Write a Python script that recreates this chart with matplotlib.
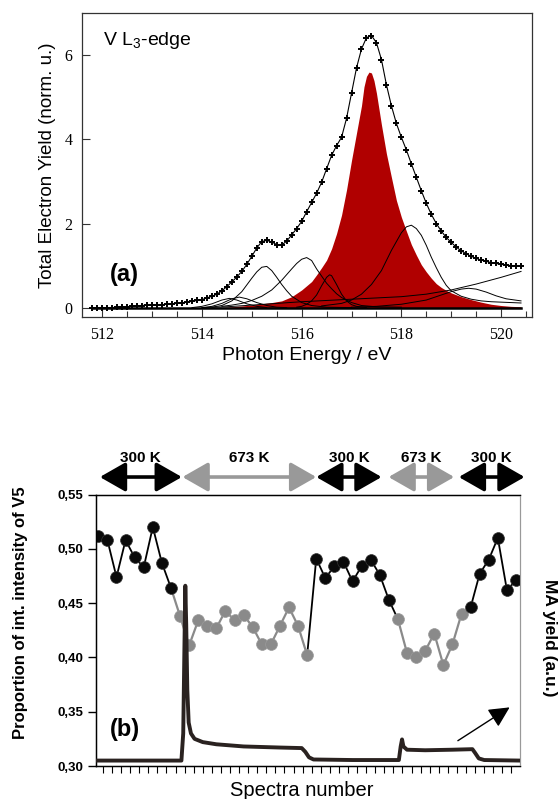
import numpy as np
import matplotlib
matplotlib.use('Agg')
import matplotlib.pyplot as plt
from matplotlib.ticker import MultipleLocator

plt.rcParams['font.family'] = ['Liberation Sans', 'DejaVu Sans']
plt.rcParams['mathtext.fontset'] = 'custom'
plt.rcParams['mathtext.rm'] = 'Liberation Sans'

# ---------- panel (a): V L3-edge, total yield + fit components ----------
tot_e = [511.8, 511.9, 512.0, 512.1, 512.2, 512.3, 512.4, 512.5, 512.6, 512.7,
         512.8, 512.9, 513.0, 513.1, 513.2, 513.3, 513.4, 513.5, 513.6, 513.7,
         513.8, 513.9, 514.0, 514.1, 514.2, 514.3, 514.4, 514.5, 514.6, 514.7,
         514.8, 514.9, 515.0, 515.1, 515.2, 515.3, 515.4, 515.5, 515.6, 515.7,
         515.8, 515.9, 516.0, 516.1, 516.2, 516.3, 516.4, 516.5, 516.6, 516.7,
         516.8, 516.9, 517.0, 517.1, 517.2, 517.3, 517.4, 517.5, 517.6, 517.7,
         517.8, 517.9, 518.0, 518.1, 518.2, 518.3, 518.4, 518.5, 518.6, 518.7,
         518.8, 518.9, 519.0, 519.1, 519.2, 519.3, 519.4, 519.5, 519.6, 519.7,
         519.8, 519.9, 520.0, 520.1, 520.2, 520.3, 520.4]
tot_y = [0.00, 0.00, 0.00, 0.00, 0.00, 0.01, 0.01, 0.02, 0.03, 0.04,
         0.05, 0.06, 0.06, 0.07, 0.07, 0.08, 0.09, 0.10, 0.11, 0.13,
         0.15, 0.17, 0.19, 0.23, 0.27, 0.32, 0.40, 0.50, 0.61, 0.73,
         0.86, 1.03, 1.22, 1.42, 1.57, 1.60, 1.56, 1.50, 1.49, 1.58,
         1.73, 1.88, 2.05, 2.28, 2.50, 2.72, 2.98, 3.30, 3.62, 3.85,
         4.05, 4.50, 5.10, 5.70, 6.15, 6.42, 6.47, 6.30, 5.90, 5.30,
         4.80, 4.38, 4.05, 3.75, 3.42, 3.10, 2.78, 2.48, 2.22, 2.00,
         1.82, 1.67, 1.55, 1.44, 1.35, 1.28, 1.22, 1.17, 1.13, 1.10,
         1.07, 1.05, 1.03, 1.01, 1.00, 0.99, 0.98]

red_e = [514.4, 514.6, 514.8, 515.0, 515.2, 515.4, 515.6, 515.8, 516.0, 516.1,
         516.2, 516.3, 516.4, 516.5, 516.6, 516.7, 516.8, 516.9, 517.0, 517.1,
         517.2, 517.25, 517.3, 517.35, 517.4, 517.45, 517.5, 517.6, 517.7, 517.8,
         517.9, 518.0, 518.1, 518.2, 518.3, 518.4, 518.5, 518.6, 518.7, 518.8,
         518.9, 519.0, 519.2, 519.4, 519.6, 519.8, 520.0, 520.2, 520.4]
red_y = [0.00, 0.02, 0.04, 0.06, 0.09, 0.12, 0.16, 0.26, 0.42, 0.52,
         0.62, 0.78, 0.95, 1.13, 1.40, 1.76, 2.20, 2.80, 3.50, 4.15,
         4.80, 5.25, 5.50, 5.60, 5.58, 5.40, 5.10, 4.35, 3.66, 3.10,
         2.55, 2.15, 1.82, 1.50, 1.25, 1.02, 0.85, 0.70, 0.57, 0.48,
         0.41, 0.35, 0.26, 0.19, 0.13, 0.08, 0.05, 0.03, 0.02]

compA_e = [514.2, 514.4, 514.6, 514.8, 515.0, 515.1, 515.2, 515.3, 515.4, 515.5,
           515.6, 515.7, 515.8, 516.0, 516.2, 516.5, 517.0]
compA_y = [0.01, 0.05, 0.16, 0.38, 0.70, 0.85, 0.96, 0.98, 0.88, 0.72,
           0.55, 0.40, 0.27, 0.12, 0.05, 0.01, 0.00]

compB_e = [514.4, 514.6, 514.8, 515.0, 515.2, 515.4, 515.6, 515.8, 515.9, 516.0,
           516.1, 516.2, 516.3, 516.4, 516.5, 516.6, 516.7, 516.8, 516.9, 517.0,
           517.2, 517.5, 518.0]
compB_y = [0.03, 0.06, 0.10, 0.17, 0.27, 0.42, 0.65, 0.92, 1.05, 1.15,
           1.19, 1.12, 0.92, 0.75, 0.58, 0.45, 0.33, 0.24, 0.18, 0.12,
           0.05, 0.02, 0.01]

compC_e = [515.9, 516.0, 516.1, 516.2, 516.3, 516.4, 516.5, 516.56, 516.6, 516.7,
           516.8, 516.9, 517.0, 517.1, 517.3]
compC_y = [0.01, 0.03, 0.08, 0.16, 0.30, 0.52, 0.72, 0.78, 0.76, 0.55,
           0.32, 0.16, 0.07, 0.03, 0.00]

compD_e = [516.4, 516.8, 517.0, 517.2, 517.4, 517.6, 517.8, 518.0, 518.1, 518.2,
           518.3, 518.4, 518.5, 518.6, 518.7, 518.8, 518.9, 519.0, 519.2, 519.4,
           519.6, 519.8, 520.0, 520.2, 520.4]
compD_y = [0.04, 0.10, 0.18, 0.32, 0.55, 0.88, 1.36, 1.78, 1.92, 1.96,
           1.88, 1.72, 1.48, 1.20, 0.95, 0.72, 0.53, 0.40, 0.27, 0.20,
           0.16, 0.14, 0.13, 0.12, 0.11]

compE_e = [517.0, 517.5, 518.0, 518.5, 518.8, 519.0, 519.2, 519.35, 519.5, 519.7,
           519.9, 520.1, 520.4]
compE_y = [0.01, 0.03, 0.08, 0.18, 0.30, 0.38, 0.44, 0.46, 0.44, 0.37,
           0.28, 0.21, 0.16]

step_e = [514.0, 514.5, 515.0, 515.5, 516.0, 516.5, 517.0, 517.5, 518.0, 518.5,
          519.0, 519.5, 520.0, 520.4]
step_y = [0.00, 0.02, 0.06, 0.10, 0.14, 0.17, 0.20, 0.23, 0.26, 0.32,
          0.42, 0.56, 0.72, 0.86]

compG_e = [513.8, 514.0, 514.2, 514.4, 514.55, 514.7, 514.9, 515.1, 515.3]
compG_y = [0.00, 0.03, 0.09, 0.18, 0.22, 0.18, 0.09, 0.03, 0.00]

compH_e = [514.0, 514.2, 514.4, 514.6, 514.75, 514.9, 515.1, 515.3, 515.5, 515.7]
compH_y = [0.00, 0.03, 0.10, 0.21, 0.25, 0.21, 0.12, 0.05, 0.01, 0.00]

base_e = [511.8, 520.4]
base_y = [0.0, 0.0]

# ---------- panel (b): proportion of V5 and MA yield ----------
v5_prop = [0.512, 0.508, 0.474, 0.508, 0.492, 0.483, 0.520, 0.487, 0.464,
           0.438, 0.411, 0.434, 0.429, 0.427, 0.443, 0.434, 0.439, 0.428, 0.412,
           0.412, 0.429, 0.446, 0.429, 0.402,
           0.491, 0.473, 0.484, 0.488, 0.470, 0.484, 0.490, 0.476, 0.453,
           0.435, 0.404, 0.400, 0.406, 0.422, 0.393, 0.412, 0.440,
           0.446, 0.477, 0.490, 0.510, 0.462, 0.471]
spectra = np.arange(len(v5_prop))
black_idx = list(range(0, 9)) + list(range(24, 33)) + list(range(41, 47))
gray_idx = list(range(9, 24)) + list(range(33, 41))
black_runs = [(0, 8), (23, 33), (40, 46)]
gray_runs = [(8, 23), (33, 40)]

ma_x = [-0.29, 9.15, 9.35, 9.5, 9.58, 9.68, 9.8, 9.95, 10.2, 10.6, 11.5, 13, 16,
        20, 22.4, 22.8, 23.2, 23.7, 28, 33.1, 33.3, 33.45, 33.6, 34.0, 36, 39,
        41.2, 41.5, 41.9, 42.5, 46.44]
ma_y = [0.20, 0.20, 1.2, 4.8, 6.64, 5.2, 2.8, 1.6, 1.2, 1.0, 0.88, 0.8, 0.72,
        0.68, 0.66, 0.52, 0.32, 0.24, 0.22, 0.22, 0.72, 0.98, 0.72, 0.6, 0.58, 0.6,
        0.62, 0.48, 0.28, 0.22, 0.20]

temp_labels = ['300 K', '673 K', '300 K', '673 K', '300 K']
temp_spans = [(0.17, 9.2), (9.27, 24.0), (24.0, 31.2), (31.96, 39.2), (39.7, 46.95)]
temp_colors = ['black', '#999999', 'black', '#999999', 'black']

v5_ticks = [0.30, 0.35, 0.40, 0.45, 0.50, 0.55]
v5_ticklabels = ['0,30', '0,35', '0,40', '0,45', '0,50', '0,55']

fig = plt.figure(figsize=(5.59, 7.99), dpi=100)

# ---- top panel ----
ax1 = fig.add_axes([0.1472, 0.6029, 0.8045, 0.3805])
ax1.fill_between(red_e, red_y, 0, color='#b00000', lw=0, zorder=1)
for e, y in [(compA_e, compA_y), (compB_e, compB_y), (compC_e, compC_y),
             (compD_e, compD_y), (compE_e, compE_y), (step_e, step_y),
             (compG_e, compG_y), (compH_e, compH_y)]:
    ax1.plot(e, y, color='black', lw=0.7, zorder=2)
ax1.plot(base_e, base_y, color='black', lw=1.8, zorder=2)
ax1.plot(tot_e, tot_y, color='black', lw=0.8, marker='+', ms=5, mew=1.4, zorder=3)

ax1.set_xlim(511.6, 520.62)
ax1.set_ylim(-0.23, 7.0)
ax1.set_xticks([512, 514, 516, 518, 520])
ax1.xaxis.set_minor_locator(MultipleLocator(0.5))
ax1.set_yticks([0, 2, 4, 6])
ax1.tick_params(which='major', direction='in', length=6, width=0.8,
                labelsize=11.5, labelfontfamily='Liberation Serif', pad=7,
                colors='#333333', labelcolor='black')
ax1.tick_params(which='minor', direction='in', length=4, width=0.8, colors='#333333')
for sp in ax1.spines.values():
    sp.set_linewidth(0.9)
    sp.set_color('#333333')
ax1.set_xlabel('Photon Energy / eV', fontsize=14, labelpad=3)
ax1.set_ylabel('Total Electron Yield (norm. u.)', fontsize=13.5, labelpad=6)
ax1.text(0.046, 0.912, 'V L$_3$-edge', transform=ax1.transAxes, fontsize=14,
         ha='left', va='center')
ax1.text(0.093, 0.142, '(a)', transform=ax1.transAxes, fontsize=17,
         fontweight='bold', ha='center', va='center')

# ---- bottom panel ----
ax2 = fig.add_axes([0.1712, 0.0413, 0.7590, 0.3398])
for a, b in gray_runs:
    ax2.plot(spectra[a:b + 1], v5_prop[a:b + 1], color='#8a8a8a', lw=1.6, zorder=2)
for a, b in black_runs:
    ax2.plot(spectra[a:b + 1], v5_prop[a:b + 1], color='black', lw=1.3, zorder=2)
ax2.plot(spectra[gray_idx], np.array(v5_prop)[gray_idx], 'o', color='#8a8a8a',
         ms=8.5, mec='#9a9a9a', mew=0.5, zorder=3)
ax2.plot(spectra[black_idx], np.array(v5_prop)[black_idx], 'o', color='#0a0a0a',
         ms=8.5, mec='#333333', mew=0.5, zorder=3)

ax2.set_xlim(-0.29, 46.44)
ax2.set_ylim(0.30, 0.55)
ax2.set_yticks(v5_ticks)
ax2.set_yticklabels(v5_ticklabels, fontweight='bold')
ax2.set_xticks(np.arange(0.5, 46, 1.0))
ax2.set_xticklabels([])
ax2.tick_params(axis='y', direction='out', length=6, width=1, labelsize=9.5, pad=3)
ax2.tick_params(axis='x', direction='out', length=5, width=0.8)
ax2.spines['right'].set_color('#999999')
for s in ['left', 'bottom', 'top']:
    ax2.spines[s].set_linewidth(1.0)

ax2.text(0.069, 0.136, '(b)', transform=ax2.transAxes, fontsize=17,
         fontweight='bold', ha='center', va='center', zorder=5)

# temperature arrows above the panel
for lab, (x0, x1), c in zip(temp_labels, temp_spans, temp_colors):
    ax2.annotate('', xy=(x1, 0.5661), xytext=(x0, 0.5661), annotation_clip=False,
                 arrowprops=dict(arrowstyle='<|-|>,head_length=1.05,head_width=0.6',
                                 color=c, lw=2.6, shrinkA=0, shrinkB=0,
                                 mutation_scale=15))
    ax2.text((x0 + x1) / 2, 0.5835, lab, fontsize=11, fontweight='bold',
             ha='center', va='center', clip_on=False)

# MA yield on a twin axis
ax3 = ax2.twinx()
ax3.plot(ma_x, ma_y, color='#2a2220', lw=2.8, solid_joinstyle='round', zorder=4)
ax3.set_ylim(0, 10)
ax3.set_yticks([])
ax3.spines['right'].set_color('#999999')

ax2.annotate('', xy=(45.3, 0.354), xytext=(39.6, 0.3233),
             arrowprops=dict(arrowstyle='-|>,head_length=0.9,head_width=0.45',
                             color='black', lw=1.0, shrinkA=0, shrinkB=0,
                             mutation_scale=14), zorder=6)

fig.text(21 / 559, 1 - 613 / 799, 'Proportion of int. intensity of V5',
         rotation=90, ha='center', va='center', fontsize=12, fontweight='bold')
fig.text(550 / 559, 1 - 638 / 799, 'MA yield (a.u.)', rotation=270,
         ha='center', va='center', fontsize=12.5, fontweight='bold')
fig.text(302 / 559, 1 - 796.5 / 799, 'Spectra number', ha='center',
         va='baseline', fontsize=14.5)

fig.savefig('out.png', dpi=100)
